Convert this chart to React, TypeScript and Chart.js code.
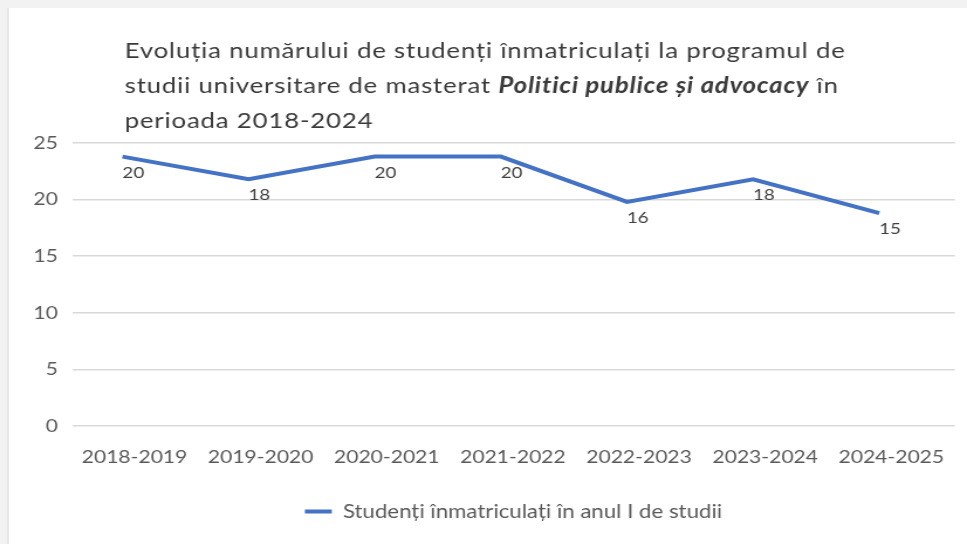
import React, { useEffect, useRef } from 'react';
import { Chart, registerables } from 'chart.js';

Chart.register(...registerables);

// ---- data ----
const categories = ['2018-2019', '2019-2020', '2020-2021', '2021-2022', '2022-2023', '2023-2024', '2024-2025'];
// positions of the line as drawn in the reference
const plottedValues = [23.8, 21.8, 23.8, 23.8, 19.8, 21.8, 18.8];
// data label texts as printed in the reference
const valueLabels = ['20', '18', '20', '20', '16', '18', '15'];
const yTickValues = [0, 5, 10, 15, 20, 25];
const seriesName = 'Studenți înmatriculați în anul I de studii';
const titleLine1 = 'Evoluția numărului de studenți înmatriculați la programul de';
const titleLine2a = 'studii universitare de masterat ';
const titleLine2b = 'Politici publice și advocacy';
const titleLine2c = ' în';
const titleLine3 = 'perioada 2018-2024';

const LINE_COLOR = '#4472c4';
const TEXT_COLOR = '#595959';
const TITLE_COLOR = '#3a3a3a';
const FONT = 'Lato';

const STRETCH = 967 / 826;
const CW = 826;
const CH = 544;

const titlePlugin = {
  id: 'richTitle',
  afterDraw(chart: any) {
    const { ctx, chartArea } = chart;
    const x0 = chartArea.left + 45;
    const base = chartArea.top;
    ctx.save();
    ctx.fillStyle = TITLE_COLOR;
    ctx.textBaseline = 'alphabetic';
    ctx.textAlign = 'left';
    try {
      (ctx as any).letterSpacing = '0.7px';
    } catch (e) {}
    const normal = `normal 22px ${FONT}`;
    const bi = `italic bold 22px ${FONT}`;
    ctx.font = normal;
    ctx.fillText(titleLine1, x0, base - 85);
    let x = x0;
    ctx.font = normal;
    ctx.fillText(titleLine2a, x, base - 50);
    x += ctx.measureText(titleLine2a).width;
    ctx.font = bi;
    ctx.fillText(titleLine2b, x, base - 50);
    x += ctx.measureText(titleLine2b).width;
    ctx.font = normal;
    ctx.fillText(titleLine2c, x, base - 50);
    ctx.fillText(titleLine3, x0, base - 15);
    ctx.restore();
  },
};

const dataLabelPlugin = {
  id: 'dataLabels',
  afterDatasetsDraw(chart: any) {
    const { ctx } = chart;
    const meta = chart.getDatasetMeta(0);
    ctx.save();
    ctx.font = `16px ${FONT}`;
    ctx.fillStyle = '#404040';
    ctx.textAlign = 'left';
    ctx.textBaseline = 'middle';
    meta.data.forEach((pt: any, i: number) => {
      ctx.fillText(valueLabels[i], pt.x, pt.y + 16);
    });
    ctx.restore();
  },
};

function LineChart() {
  const ref = useRef<HTMLCanvasElement | null>(null);
  useEffect(() => {
    if (!ref.current) return;
    const chart = new Chart(ref.current, {
      type: 'line',
      data: {
        datasets: [
          {
            label: seriesName,
            data: plottedValues.map((v, i) => ({ x: i, y: v })),
            borderColor: LINE_COLOR,
            backgroundColor: LINE_COLOR,
            borderWidth: 4,
            pointRadius: 0,
            pointHoverRadius: 0,
            tension: 0,
            fill: false,
          },
        ],
      },
      options: {
        animation: false,
        responsive: true,
        maintainAspectRatio: false,
        font: { family: FONT },
        layout: { padding: { top: 143, left: 0, right: 10.3, bottom: 13 } },
        scales: {
          x: {
            type: 'linear',
            min: -0.4,
            max: categories.length - 0.4,
            grid: { display: false },
            border: { display: false },
            afterBuildTicks: (scale: any) => {
              scale.ticks = categories.map((_, i) => ({ value: i }));
            },
            afterFit: (scale: any) => {
              scale.height = 66;
            },
            ticks: {
              autoSkip: false,
              maxRotation: 0,
              minRotation: 0,
              labelOffset: 10.3,
              padding: 12,
              color: TEXT_COLOR,
              font: { family: FONT, size: 18 },
              callback: (v: any) => categories[v] ?? '',
            },
          },
          y: {
            min: 0,
            max: 25,
            afterBuildTicks: (scale: any) => {
              scale.ticks = yTickValues.map((v) => ({ value: v }));
            },
            afterFit: (scale: any) => {
              scale.width = 61.5;
            },
            grid: { color: '#d9d9d9', lineWidth: 1.5, drawTicks: false },
            border: { display: false },
            ticks: {
              padding: 12,
              color: TEXT_COLOR,
              font: { family: FONT, size: 18 },
            },
          },
        },
        plugins: {
          title: { display: false },
          tooltip: { enabled: false },
          legend: {
            display: true,
            position: 'bottom',
            fullSize: false,
            labels: {
              color: TEXT_COLOR,
              font: { family: FONT, size: 19 },
              boxWidth: 23,
              boxHeight: 4,
              padding: 10,
              generateLabels: (c: any) =>
                Chart.defaults.plugins.legend.labels
                  .generateLabels(c)
                  .map((l: any) => ({ ...l, lineWidth: 0, fillStyle: LINE_COLOR })),
            },
          },
        },
      } as any,
      plugins: [titlePlugin, dataLabelPlugin],
    });
    return () => chart.destroy();
  }, []);

  return (
    <div
      style={{
        position: 'absolute',
        left: 0,
        top: 0,
        width: CW,
        height: CH,
        transform: `scaleX(${STRETCH})`,
        transformOrigin: '0 0',
      }}
    >
      <canvas ref={ref} />
    </div>
  );
}

export default function App() {
  return (
    <div style={{ position: 'absolute', left: 0, top: 0, width: 967, height: 544, background: '#f2f2f2', overflow: 'hidden' }}>
      <div
        style={{
          position: 'absolute',
          left: 7,
          top: 8,
          right: 0,
          bottom: 0,
          background: '#ffffff',
          borderLeft: '2px solid #e6e6e6',
        }}
      />
      <LineChart />
    </div>
  );
}
